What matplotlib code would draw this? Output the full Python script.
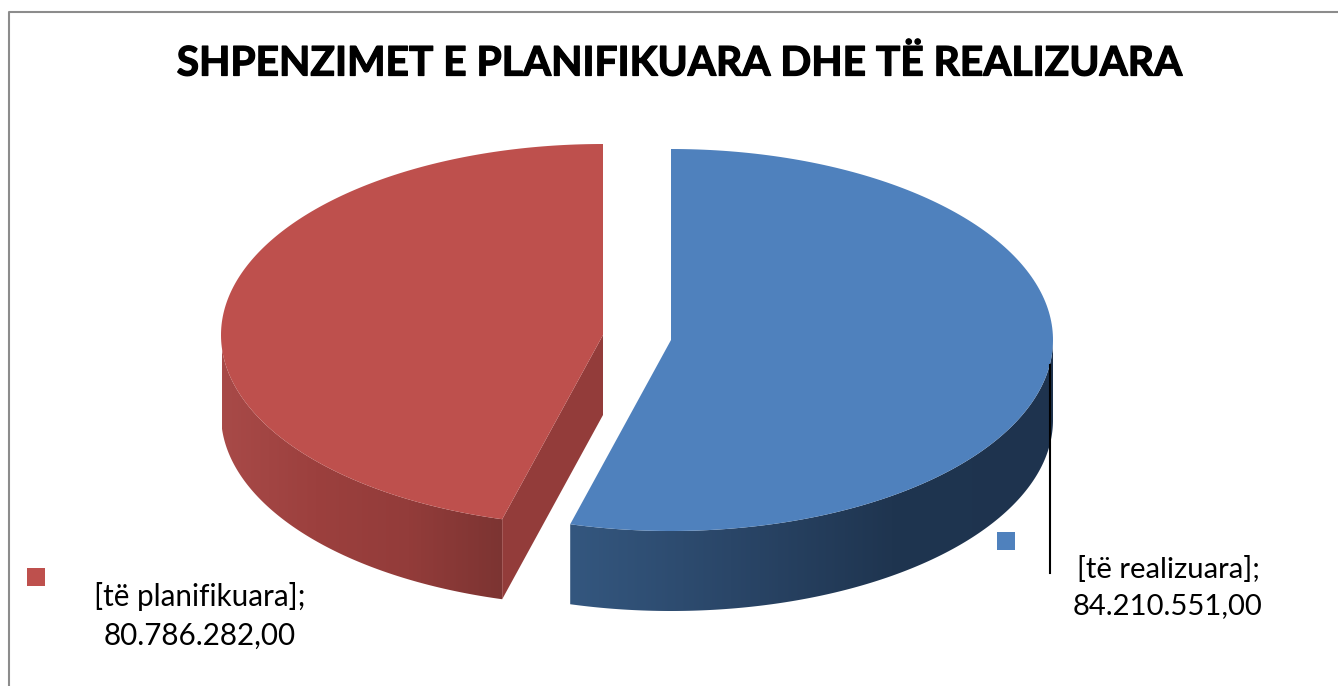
import numpy as np
import matplotlib
matplotlib.use('Agg')
import matplotlib.pyplot as plt
import matplotlib.patheffects as pe
from matplotlib.patches import Polygon, Rectangle
from matplotlib.colors import LinearSegmentedColormap

title = 'SHPENZIMET E PLANIFIKUARA DHE TË REALIZUARA'
labels = ['[të realizuara];\n84.210.551,00', '[të planifikuara];\n80.786.282,00']
# slice sizes in degrees as drawn in the picture (the drawn slices do not
# follow the printed amounts exactly)
slice_degrees = [195.3, 164.7]
top_colors = ['#4F81BD', '#BE504D']
wall_colors = ['#933C3A']
blue_grad = ['#34577F', '#2A4668', '#1F3550', '#1E334E']
red_grad = ['#A84A48', '#9C403E', '#933C3A', '#7C3432']

RX, RY, DEPTH = 382, 191, 80


def arc(cx, cy, a0, a1, n=200):
    # angles run clockwise from the top of the pie
    t = np.radians(np.linspace(a0, a1, n))
    return np.column_stack([cx + RX * np.sin(t), cy - RY * np.cos(t)])


def gradient_side(ax, pts, colors, x0, x1, y0, y1):
    cmap = LinearSegmentedColormap.from_list('side', colors)
    im = ax.imshow(np.linspace(0, 1, 256).reshape(1, -1), cmap=cmap, aspect='auto',
                   extent=[x0, x1, y1, y0], zorder=2)
    clip = Polygon(pts, closed=True, transform=ax.transData, fc='none', ec='none')
    ax.add_patch(clip)
    im.set_clip_path(clip)


fig = plt.figure(figsize=(13.38, 6.86), dpi=100)
ax = fig.add_axes([0, 0, 1, 1])
ax.set_xlim(0, 1338)
ax.set_ylim(686, 0)
ax.axis('off')

# frame
ax.plot([8.5, 8.5, 1338], [686, 12, 12], color='#8C8C8C', lw=1.5, zorder=1)

# blue slice
bx, by = 671, 340
blue_end = slice_degrees[0]
rim = arc(bx, by, 90, blue_end)
side = np.vstack([rim, (rim + [0, DEPTH])[::-1]])
gradient_side(ax, side, blue_grad, rim[:, 0].min(), 1053, 300, 640)
ax.add_patch(Polygon(arc(bx, by, 0, blue_end).tolist() + [[bx, by]], closed=True,
                     fc=top_colors[0], ec='none', zorder=3))

# red slice, pulled out to the left
rx, ry = 603, 335
red_start = 360 - slice_degrees[1]
rim = arc(rx, ry, 180 + 90, red_start)
side = np.vstack([rim, (rim + [0, DEPTH])[::-1]])
gradient_side(ax, side, red_grad, 222, rim[:, 0].max(), 300, 640)
e = arc(rx, ry, red_start, red_start, 1)[0]
ax.add_patch(Polygon([[rx, ry], [rx, ry + DEPTH], [e[0], e[1] + DEPTH], e], closed=True,
                     fc=wall_colors[0], ec='none', zorder=2))
ax.add_patch(Polygon(arc(rx, ry, red_start, 360).tolist() + [[rx, ry]], closed=True,
                     fc=top_colors[1], ec='none', zorder=3))

# leader line
ax.plot([1050, 1050], [365, 573], color='black', lw=1.5, zorder=4)

# label keys
ax.add_patch(Rectangle((997, 532), 18, 18, fc=top_colors[0], ec='none', zorder=4))
ax.add_patch(Rectangle((27, 568), 18, 18, fc=top_colors[1], ec='none', zorder=4))

t = ax.text(679.5, 64, title, fontsize=29.3, fontweight='bold', family='Lato',
            ha='center', va='center', color='black', zorder=5)
t.set_path_effects([pe.withStroke(linewidth=0.9, foreground='black')])
ax.text(1168, 588, labels[0], fontsize=21.1, family='Lato', ha='center', va='center',
        linespacing=1.48, color='black', zorder=5)
ax.text(200, 616, labels[1], fontsize=21.3, family='Lato', ha='center', va='center',
        linespacing=1.48, color='black', zorder=5)

ax.set_xlim(0, 1338)
ax.set_ylim(686, 0)
fig.savefig('out.png', dpi=100)
